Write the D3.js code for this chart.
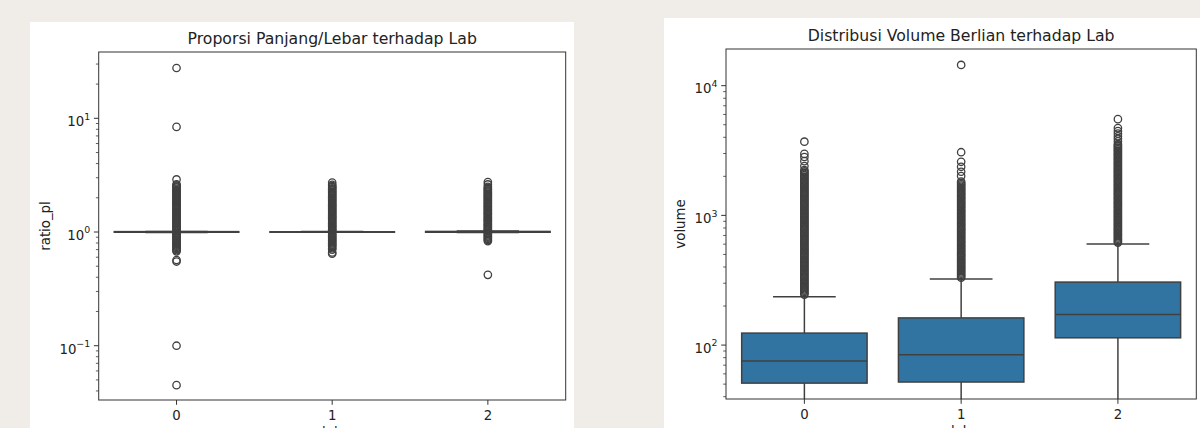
<!DOCTYPE html>
<html>
<head>
<meta charset="utf-8">
<script src="https://cdn.jsdelivr.net/npm/d3@7"></script>
<style>
  body { margin: 0; background: #f0ede9; }
  svg { display: block; font-family: "DejaVu Sans", sans-serif; }
</style>
</head>
<body>
<div id="chart"></div>
<script>
// categories (lab)
const labs = [0, 1, 2];

// ratio_pl box stats per lab (boxes collapse near 1.0)
const ratioQ1 = [0.995, 0.996, 0.995];
const ratioMed = [1.0, 1.0, 1.0];
const ratioQ3 = [1.008, 1.004, 1.012];
const ratioLo = [0.99, 0.993, 0.99];
const ratioHi = [1.012, 1.008, 1.018];

// ratio_pl outliers (dense columns are thousands of points)
const ratioOut0 = [27.7, 8.4, 2.9, 2.63, 2.57, 2.51, 2.46, 2.4, 2.34, 2.29, 2.24, 2.19, 2.14, 2.09, 2.04, 2.0, 1.95, 1.91, 1.86, 1.82, 1.78, 1.74, 1.7, 1.66, 1.62, 1.59, 1.55, 1.51, 1.48, 1.45, 1.41, 1.38, 1.35, 1.32, 1.29, 1.26, 1.23, 1.2, 1.18, 1.15, 1.12, 1.1, 1.07, 1.05, 1.02,
  0.98, 0.955, 0.933, 0.912, 0.891, 0.871, 0.851, 0.832, 0.813, 0.794, 0.776, 0.759, 0.741, 0.724, 0.708, 0.692, 0.676, 0.567, 0.55, 0.1, 0.045];
const ratioOut1 = [2.72, 2.6, 2.54, 2.48, 2.42, 2.37, 2.31, 2.26, 2.21, 2.16, 2.11, 2.06, 2.01, 1.97, 1.92, 1.88, 1.84, 1.79, 1.75, 1.71, 1.68, 1.64, 1.6, 1.57, 1.53, 1.5, 1.46, 1.43, 1.4, 1.37, 1.34, 1.31, 1.28, 1.25, 1.22, 1.19, 1.16, 1.14, 1.11, 1.09, 1.06, 1.04, 1.02,
  0.98, 0.955, 0.933, 0.912, 0.891, 0.871, 0.851, 0.832, 0.813, 0.794, 0.776, 0.759, 0.741, 0.72, 0.7, 0.66, 0.645];
const ratioOut2 = [2.75, 2.62, 2.5, 2.44, 2.38, 2.33, 2.27, 2.22, 2.17, 2.12, 2.07, 2.02, 1.98, 1.93, 1.89, 1.85, 1.8, 1.76, 1.72, 1.68, 1.65, 1.61, 1.57, 1.54, 1.5, 1.47, 1.44, 1.41, 1.37, 1.34, 1.31, 1.28, 1.26, 1.23, 1.2, 1.17, 1.15, 1.12, 1.1, 1.07, 1.05, 1.03,
  0.98, 0.955, 0.933, 0.912, 0.891, 0.871, 0.851, 0.832, 0.42];

// volume box stats per lab
const volQ1 = [50.9, 51.9, 113.8];
const volMed = [75.3, 84.2, 172.5];
const volQ3 = [123.7, 162, 306];
const volLo = [18, 20, 30];
const volHi = [236, 323, 601];

// volume outliers
const volOut0 = [245, 251, 257, 263, 269, 275, 282, 288, 295, 302, 309, 316, 324, 331, 339, 347, 355, 363, 372, 380, 389, 398, 407, 417, 427, 437, 447, 457, 468, 479,
  490, 501, 513, 525, 537, 550, 562, 575, 589, 603, 617, 631, 646, 661, 676, 692, 708, 724, 741, 759, 776, 794, 813, 832, 851, 871, 891, 912, 933, 955,
  977, 1000, 1023, 1047, 1072, 1096, 1122, 1148, 1175, 1202, 1230, 1259, 1288, 1318, 1349, 1380, 1413, 1445, 1479, 1514, 1549, 1585, 1622, 1660, 1698, 1738, 1778, 1820, 1862, 1905,
  1950, 1995, 2042, 2089, 2138, 2188, 2239, 2400, 2620, 2820, 2980, 3700];
const volOut1 = [331, 339, 347, 355, 363, 372, 380, 389, 398, 407, 417, 427, 437, 447, 457, 468, 479, 490, 501, 513, 525, 537, 550, 562, 575, 589, 603, 617, 631, 646,
  661, 676, 692, 708, 724, 741, 759, 776, 794, 813, 832, 851, 871, 891, 912, 933, 955, 977, 1000, 1023, 1047, 1072, 1096, 1122, 1148, 1175, 1202, 1230, 1259, 1288,
  1318, 1349, 1380, 1413, 1445, 1479, 1514, 1549, 1585, 1622, 1660, 1698, 1738, 1778, 1820, 2010, 2170, 2370, 2590, 3070, 14450];
const volOut2 = [617, 631, 646, 661, 676, 692, 708, 724, 741, 759, 776, 794, 813, 832, 851, 871, 891, 912, 933, 955, 977, 1000, 1023, 1047, 1072, 1096, 1122, 1148, 1175, 1202,
  1230, 1259, 1288, 1318, 1349, 1380, 1413, 1445, 1479, 1514, 1549, 1585, 1622, 1660, 1698, 1738, 1778, 1820, 1862, 1905, 1950, 1995, 2042, 2089, 2138, 2188, 2239, 2291, 2344, 2399,
  2455, 2512, 2570, 2630, 2692, 2754, 2818, 2884, 2951, 3020, 3090, 3162, 3236, 3311, 3388, 3467, 3550, 3720, 3890, 4070, 4270, 4470, 4710, 5520];

const W = 1200, H = 428;
const boxFill = "#3274a1";
const edge = "#404040";

const svg = d3.select("#chart").append("svg")
  .attr("width", W).attr("height", H);

svg.append("rect").attr("width", W).attr("height", H).attr("fill", "#f0ede9");

function panel(cfg) {
  // white figure background
  svg.append("rect")
    .attr("x", cfg.bg[0]).attr("y", cfg.bg[1])
    .attr("width", cfg.bg[2]).attr("height", cfg.bg[3])
    .attr("fill", "white");

  const x = d3.scaleLinear().domain([-0.5, 2.5]).range([cfg.left, cfg.right]);
  const y = d3.scaleLog().domain(cfg.ydomain).range([cfg.bottom, cfg.top]);
  const bw = (x(1) - x(0)) * 0.8;
  const cw = bw / 2;

  const clipId = "clip" + cfg.id;
  svg.append("clipPath").attr("id", clipId)
    .append("rect")
    .attr("x", cfg.left).attr("y", cfg.top)
    .attr("width", cfg.right - cfg.left).attr("height", cfg.bottom - cfg.top);

  const g = svg.append("g").attr("clip-path", "url(#" + clipId + ")");

  labs.forEach((lab, i) => {
    const cx = x(lab);
    // whiskers
    g.append("line").attr("x1", cx).attr("x2", cx)
      .attr("y1", y(cfg.q3[i])).attr("y2", y(cfg.hi[i]))
      .attr("stroke", edge).attr("stroke-width", 1.5);
    g.append("line").attr("x1", cx).attr("x2", cx)
      .attr("y1", y(cfg.q1[i])).attr("y2", y(cfg.lo[i]))
      .attr("stroke", edge).attr("stroke-width", 1.5);
    // box
    g.append("rect")
      .attr("x", cx - bw / 2).attr("width", bw)
      .attr("y", y(cfg.q3[i])).attr("height", Math.max(0, y(cfg.q1[i]) - y(cfg.q3[i])))
      .attr("fill", boxFill).attr("stroke", edge).attr("stroke-width", 1.5);
    // caps
    [cfg.lo[i], cfg.hi[i]].forEach(v => {
      g.append("line").attr("x1", cx - cw / 2).attr("x2", cx + cw / 2)
        .attr("y1", y(v)).attr("y2", y(v))
        .attr("stroke", edge).attr("stroke-width", 1.5);
    });
    // median
    g.append("line").attr("x1", cx - bw / 2).attr("x2", cx + bw / 2)
      .attr("y1", y(cfg.med[i])).attr("y2", y(cfg.med[i]))
      .attr("stroke", edge).attr("stroke-width", 1.5);
    // fliers
    g.selectAll(null).data(cfg.out[i]).join("circle")
      .attr("cx", cx).attr("cy", d => y(d)).attr("r", 3.7)
      .attr("fill", "none").attr("stroke", edge).attr("stroke-width", 1.3);
  });

  // spines
  svg.append("rect")
    .attr("x", cfg.left).attr("y", cfg.top)
    .attr("width", cfg.right - cfg.left).attr("height", cfg.bottom - cfg.top)
    .attr("fill", "none").attr("stroke", "#333").attr("stroke-width", 1);

  // x ticks
  labs.forEach(lab => {
    svg.append("line").attr("x1", x(lab)).attr("x2", x(lab))
      .attr("y1", cfg.bottom).attr("y2", cfg.bottom + 4.8)
      .attr("stroke", "#333").attr("stroke-width", 1);
    svg.append("text").attr("x", x(lab)).attr("y", cfg.bottom + 19.5)
      .attr("text-anchor", "middle").attr("font-size", 13.3).attr("fill", "#222")
      .text(lab);
  });

  // y ticks (log)
  const [lo, hi] = cfg.ydomain;
  for (let e = Math.floor(Math.log10(lo)); e <= Math.ceil(Math.log10(hi)); e++) {
    for (let m = 1; m <= 9; m++) {
      const v = m * Math.pow(10, e);
      if (v < lo || v > hi) continue;
      const major = m === 1;
      svg.append("line").attr("x1", cfg.left).attr("x2", cfg.left - (major ? 4.8 : 2.8))
        .attr("y1", y(v)).attr("y2", y(v))
        .attr("stroke", "#333").attr("stroke-width", major ? 1 : 0.8);
      if (major) {
        const t = svg.append("text").attr("x", cfg.left - 8.5).attr("y", y(v) + 7.8)
          .attr("text-anchor", "end").attr("font-size", 13.3).attr("fill", "#222");
        t.append("tspan").text("10");
        t.append("tspan").attr("font-size", 9.4).attr("dy", -6.5)
          .text(e < 0 ? "\u2212" + Math.abs(e) : e);
      }
    }
  }

  // title
  svg.append("text").attr("x", (cfg.left + cfg.right) / 2).attr("y", cfg.titleY)
    .attr("text-anchor", "middle").attr("font-size", 15.7).attr("fill", "#222")
    .text(cfg.title);

  // y label
  svg.append("text")
    .attr("transform", "translate(" + cfg.ylabX + "," + ((cfg.top + cfg.bottom) / 2) + ") rotate(-90)")
    .attr("text-anchor", "middle").attr("font-size", 13.3).attr("fill", "#222")
    .text(cfg.ylabel);

  // x label (mostly cut off by the window edge, as in the reference)
  svg.append("text").attr("x", (cfg.left + cfg.right) / 2).attr("y", cfg.bottom + 37)
    .attr("text-anchor", "middle").attr("font-size", 13.3).attr("fill", "#222")
    .text("lab");
}

panel({
  id: 0, bg: [30, 22, 544, 420],
  left: 98.7, right: 565.7, top: 52, bottom: 400,
  ydomain: [0.0333, 38.3],
  q1: ratioQ1, med: ratioMed, q3: ratioQ3, lo: ratioLo, hi: ratioHi,
  out: [ratioOut0, ratioOut1, ratioOut2],
  title: "Proporsi Panjang/Lebar terhadap Lab", titleY: 44,
  ylabel: "ratio_pl", ylabX: 49.5
});

panel({
  id: 1, bg: [664, 18, 540, 420],
  left: 726, right: 1196.3, top: 49, bottom: 399,
  ydomain: [38.4, 19180],
  q1: volQ1, med: volMed, q3: volQ3, lo: volLo, hi: volHi,
  out: [volOut0, volOut1, volOut2],
  title: "Distribusi Volume Berlian terhadap Lab", titleY: 41.3,
  ylabel: "volume", ylabX: 684.5
});
</script>
</body>
</html>
